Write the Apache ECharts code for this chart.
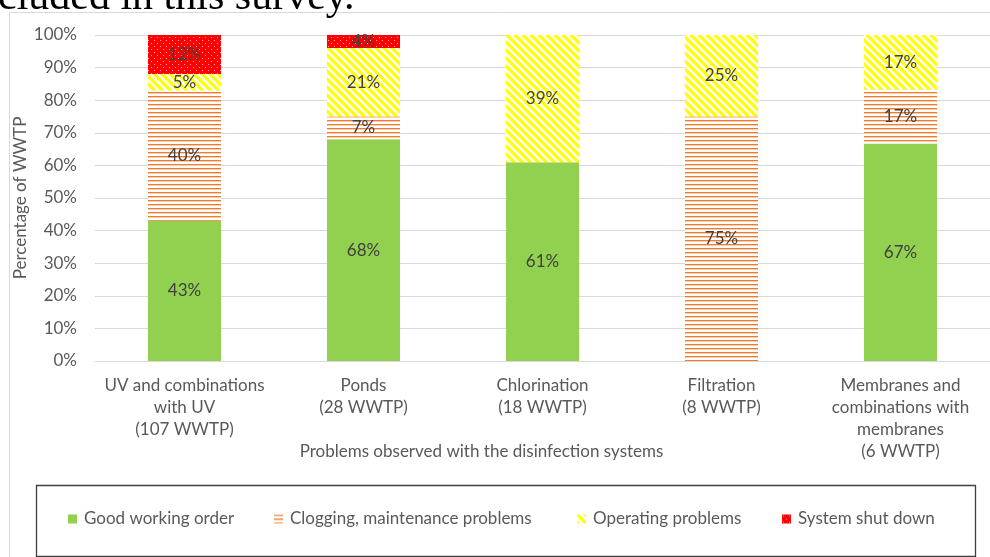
<!DOCTYPE html>
<html>
<head>
<meta charset="utf-8">
<script src="https://cdn.jsdelivr.net/npm/echarts@6/dist/echarts.min.js"></script>
<style>
html,body{margin:0;padding:0;background:#fff;}
#chart{width:990px;height:557px;}
</style>
</head>
<body>
<div id="chart"></div>
<script>
// ---- data ----
const categories = [
  "UV and combinations\nwith UV\n(107 WWTP)",
  "Ponds\n(28 WWTP)",
  "Chlorination\n(18 WWTP)",
  "Filtration\n(8 WWTP)",
  "Membranes and\ncombinations with\nmembranes\n(6 WWTP)"
];
const seriesNames = ["Good working order", "Clogging, maintenance problems", "Operating problems", "System shut down"];
const goodWorking = [43, 68, 61, 0, 66.7];
const clogging = [40, 7, 0, 75, 16.6];
const operating = [5, 21, 39, 25, 16.7];
const shutDown = [12, 4, 0, 0, 0];
const yTicks = [0, 10, 20, 30, 40, 50, 60, 70, 80, 90, 100];

// ---- patterns ----
function makeCanvas(w, h, draw) {
  const c = document.createElement('canvas');
  c.width = w; c.height = h;
  const ctx = c.getContext('2d');
  draw(ctx, w, h);
  return c;
}
const hLines = makeCanvas(8, 4, (ctx, w, h) => {
  ctx.fillStyle = '#ffffff'; ctx.fillRect(0, 0, w, h);
  ctx.fillStyle = '#ED7D31'; ctx.fillRect(0, 0, w, 1);
  ctx.fillStyle = '#F8CBAD'; ctx.fillRect(0, 1, w, 1);
});
const diag = makeCanvas(8, 8, (ctx, w, h) => {
  ctx.fillStyle = '#ffffff'; ctx.fillRect(0, 0, w, h);
  ctx.strokeStyle = '#FFFF00'; ctx.lineWidth = 3.2;
  ctx.beginPath();
  for (let k = -2; k <= 2; k++) {
    ctx.moveTo(k * w - 2, -2);
    ctx.lineTo(k * w + w + 2, h + 2);
  }
  ctx.stroke();
});
const dots = makeCanvas(6, 6, (ctx, w, h) => {
  ctx.fillStyle = '#FF0000'; ctx.fillRect(0, 0, w, h);
  ctx.fillStyle = '#FFB0B0';
  ctx.fillRect(1, 1, 1, 1);
  ctx.fillRect(4, 4, 1, 1);
});

const fills = [
  '#92D050',
  { image: hLines, repeat: 'repeat' },
  { image: diag, repeat: 'repeat' },
  { image: dots, repeat: 'repeat' }
];
const values = [goodWorking, clogging, operating, shutDown];

const FONT = 'Lato';
const FS = 17;
const chart = echarts.init(document.getElementById('chart'));

const legendLefts = [68, 274, 577, 782];

chart.setOption({
  animation: false,
  backgroundColor: '#ffffff',
  graphic: [
    { type: 'rect', left: 7, top: 10, shape: { width: 1100, height: 700 },
      style: { fill: 'none', stroke: '#D9D9D9', lineWidth: 1 }, silent: true, z: -10 },
    { type: 'text', left: -2, top: -23,
      style: { text: 'cluded in this survey.', font: '42px "Liberation Serif"', fill: '#000' } },
    { type: 'rect', left: 34, top: 483, shape: { width: 939, height: 71 },
      style: { fill: 'none', stroke: '#404040', lineWidth: 1.3 }, silent: true }
  ],
  grid: { left: 95, right: 0, top: 35, bottom: 196, containLabel: false },
  legend: seriesNames.map((n, i) => ({
    data: [n],
    left: legendLefts[i],
    top: 510,
    padding: 0,
    itemWidth: 9,
    itemHeight: 9,
    icon: 'rect',
    textStyle: { fontFamily: FONT, fontSize: FS, color: '#595959', lineHeight: 18, padding: [0, 0, 0, 2] },
    selectedMode: false
  })),
  xAxis: {
    type: 'category',
    data: categories,
    axisLine: { lineStyle: { color: '#D9D9D9' } },
    axisTick: { show: false },
    axisLabel: { fontFamily: FONT, fontSize: FS, color: '#595959', lineHeight: 22, margin: 14, interval: 0 },
    name: 'Problems observed with the disinfection systems',
    nameLocation: 'middle',
    nameGap: 82,
    nameMoveOverlap: false,
    nameTextStyle: { fontFamily: FONT, fontSize: FS, color: '#595959', padding: [0, 122, 0, 0] }
  },
  yAxis: {
    type: 'value',
    min: yTicks[0],
    max: yTicks[yTicks.length - 1],
    interval: yTicks[1] - yTicks[0],
    axisLine: { show: false },
    axisTick: { show: false },
    splitLine: { lineStyle: { color: '#D9D9D9' } },
    axisLabel: { fontFamily: FONT, fontSize: FS, color: '#595959', margin: 18, formatter: v => v + '%' },
    name: 'Percentage of WWTP',
    nameLocation: 'middle',
    nameGap: 66,
    nameMoveOverlap: false,
    nameTextStyle: { fontFamily: FONT, fontSize: FS, color: '#595959' }
  },
  series: seriesNames.map((n, i) => ({
    name: n,
    type: 'bar',
    stack: 'total',
    barWidth: 73,
    data: values[i],
    itemStyle: { color: fills[i] },
    label: {
      show: true,
      position: 'inside',
      fontFamily: FONT,
      fontSize: FS,
      color: '#404040',
      formatter: p => p.value > 0 ? Math.round(p.value) + '%' : ''
    }
  }))
});
</script>
</body>
</html>
